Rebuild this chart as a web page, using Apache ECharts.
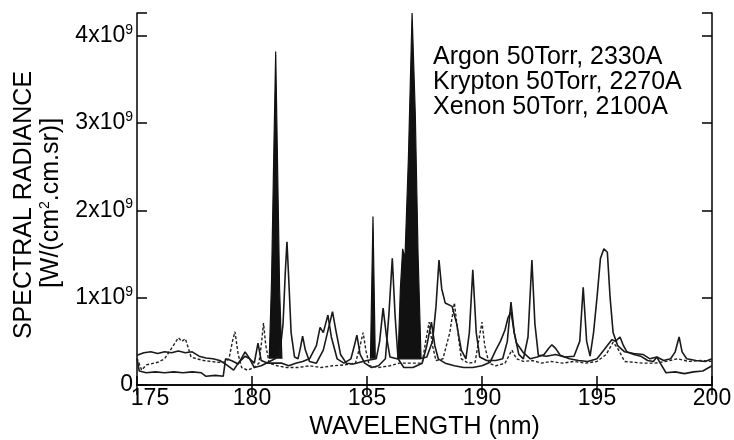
<!DOCTYPE html>
<html>
<head>
<meta charset="utf-8">
<script src="https://cdn.jsdelivr.net/npm/echarts@6.0.0/dist/echarts.min.js"></script>
<style type="text/css">
    html, body { margin: 0; padding: 0; background: #fff; }
    #chart { width: 734px; height: 440px; }
</style>
</head>
<body>
<div id="chart"></div>
<script type="text/javascript">
    // wavelength (nm), radiance (x1e9 W/(cm2.cm.sr))
    var xTicks = [175, 180, 185, 190, 195, 200];
    var yTicks = [0, 1, 2, 3, 4];
    var legendNames = ['Argon 50Torr, 2330A', 'Krypton 50Torr, 2270A', 'Xenon 50Torr, 2100A'];

    var argon = [[175.0,0.34],[175.3,0.37],[175.6,0.38],[175.9,0.36],[176.2,0.38],[176.5,0.37],[176.8,0.39],[177.1,0.37],
        [177.4,0.38],[177.7,0.33],[178.0,0.31],[178.3,0.3],[178.6,0.28],[178.9,0.23],[179.2,0.17],[179.4,0.25],[179.7,0.33],
        [179.9,0.3],[180.1,0.2],[180.4,0.22],[180.7,0.26],[181.0,0.3],[181.2,0.34],[181.35,0.7],[181.45,1.3],[181.52,1.64],
        [181.6,1.2],[181.7,0.6],[181.85,0.32],[182.0,0.3],[182.1,0.42],[182.2,0.56],[182.32,0.4],[182.5,0.27],[182.8,0.25],
        [183.1,0.4],[183.3,0.62],[183.5,0.84],[183.65,0.62],[183.85,0.35],[184.1,0.25],[184.4,0.24],[184.7,0.26],[185.0,0.28],
        [185.4,0.3],[185.55,0.5],[185.7,0.88],[185.85,0.55],[186.0,0.32],[186.3,0.3],[187.3,0.3],[187.6,0.32],[187.85,0.5],
        [188.0,0.9],[188.13,1.43],[188.25,1.1],[188.4,0.94],[188.7,0.9],[188.9,0.7],[189.1,0.4],[189.3,0.3],[189.45,0.6],
        [189.6,1.32],[189.75,0.6],[189.9,0.32],[190.2,0.28],[190.6,0.28],[190.9,0.3],[191.1,0.5],[191.26,0.95],[191.4,0.6],
        [191.6,0.35],[191.8,0.3],[192.0,0.55],[192.17,1.43],[192.3,0.7],[192.45,0.34],[192.8,0.33],[193.2,0.35],[193.6,0.32],
        [194.0,0.33],[194.25,0.5],[194.4,1.12],[194.55,0.5],[194.7,0.33],[194.85,0.6],[195.0,1.0],[195.15,1.45],[195.3,1.56],
        [195.45,1.52],[195.57,1.0],[195.7,0.6],[195.9,0.45],[196.2,0.38],[196.6,0.36],[197.0,0.35],[197.3,0.3],[197.6,0.32],
        [197.9,0.28],[198.2,0.3],[198.4,0.38],[198.57,0.55],[198.7,0.38],[198.9,0.3],[199.3,0.28],[199.7,0.27],[200.0,0.3]];

    var krypton = [[175.0,0.3],[175.1,0.16],[175.4,0.14],[175.8,0.15],[176.2,0.14],[176.6,0.15],[177.0,0.14],[177.4,0.15],
        [177.8,0.14],[178.0,0.1],[178.4,0.11],[178.75,0.1],[178.85,0.3],[179.1,0.28],[179.4,0.24],[179.7,0.38],[179.9,0.3],
        [180.1,0.25],[180.26,0.48],[180.4,0.28],[180.7,0.25],[181.0,0.25],[181.3,0.25],[181.6,0.22],[181.9,0.25],[182.2,0.27],
        [182.5,0.3],[182.8,0.45],[182.96,0.66],[183.1,0.6],[183.3,0.8],[183.45,0.55],[183.7,0.3],[184.0,0.25],[184.3,0.3],
        [184.45,0.45],[184.56,0.57],[184.7,0.35],[184.9,0.25],[185.2,0.2],[185.5,0.22],[185.8,0.3],[185.95,0.8],[186.1,1.45],
        [186.22,0.8],[186.35,0.3],[186.6,0.2],[187.0,0.2],[187.4,0.25],[187.6,0.45],[187.8,0.72],[187.95,0.45],[188.1,0.3],
        [188.4,0.25],[188.8,0.22],[189.2,0.2],[189.6,0.2],[190.0,0.22],[190.35,0.26],[190.6,0.4],[190.8,0.5],[191.0,0.63],
        [191.13,0.77],[191.26,0.84],[191.4,0.6],[191.5,0.48],[191.8,0.37],[192.1,0.3],[192.4,0.32],[192.7,0.35],[192.9,0.42],
        [193.04,0.46],[193.2,0.42],[193.4,0.34],[193.8,0.3],[194.2,0.28],[194.6,0.27],[195.0,0.3],[195.3,0.4],[195.65,0.52],
        [195.8,0.5],[196.0,0.55],[196.15,0.45],[196.3,0.38],[196.6,0.35],[196.9,0.33],[197.2,0.28],[197.45,0.27],[197.6,0.32],
        [197.75,0.25],[198.0,0.14],[198.4,0.15],[198.8,0.13],[199.2,0.15],[199.6,0.16],[200.0,0.22]];

    var xenon = [[175.0,0.31],[175.2,0.17],[175.4,0.23],[175.9,0.26],[176.2,0.3],[176.45,0.4],[176.6,0.46],[176.8,0.54],
        [176.95,0.5],[177.1,0.53],[177.2,0.45],[177.35,0.32],[177.6,0.3],[177.9,0.28],[178.2,0.27],[178.5,0.26],[178.8,0.26],
        [179.0,0.3],[179.15,0.5],[179.26,0.61],[179.4,0.35],[179.55,0.2],[179.8,0.17],[180.1,0.2],[180.3,0.25],[180.4,0.45],
        [180.5,0.71],[180.6,0.45],[180.75,0.25],[181.1,0.22],[181.5,0.2],[182.0,0.2],[182.5,0.22],[183.0,0.2],[183.5,0.22],
        [184.0,0.23],[184.5,0.25],[184.7,0.45],[184.83,0.6],[184.95,0.4],[185.1,0.22],[185.5,0.2],[186.0,0.22],[186.4,0.25],
        [187.4,0.25],[187.55,0.5],[187.7,0.72],[187.85,0.45],[188.0,0.28],[188.3,0.3],[188.6,0.6],[188.8,0.94],[188.95,0.6],
        [189.1,0.3],[189.4,0.25],[189.7,0.26],[189.85,0.5],[190.0,0.72],[190.12,0.45],[190.3,0.25],[190.6,0.22],[191.0,0.25],
        [191.3,0.4],[191.5,0.3],[191.8,0.27],[192.2,0.28],[192.6,0.25],[193.0,0.27],[193.5,0.25],[194.0,0.27],[194.5,0.25],
        [195.0,0.27],[195.4,0.35],[195.7,0.49],[195.9,0.42],[196.2,0.27],[196.6,0.26],[197.0,0.25],[197.5,0.25],[198.0,0.27],
        [198.5,0.3],[199.0,0.27],[199.5,0.28],[200.0,0.27]];

    // saturated (dense) lines, drawn filled
    var dense = [[180.75,0.3],[180.85,1.2],[180.95,2.7],[181.03,3.82],[181.1,2.7],[181.2,1.1],[181.3,0.3],[183.0,'-'],
        [185.15,0.3],[185.26,1.93],[185.36,0.3],[186.0,'-'],
        [186.35,0.3],[186.45,1.1],[186.55,1.56],[186.65,1.45],[186.8,2.6],[186.96,4.26],[187.1,3.1],[187.22,1.5],[187.35,0.3]];

    var FONT = '"Liberation Sans", Arial, Helvetica, sans-serif';

    var myChart = echarts.init(document.getElementById('chart'));
    option = {
        animation: false,
        backgroundColor: '#fff',
        grid: { left: 137, right: 22, top: 13, bottom: 55, outerBoundsMode: 'none', containLabel: false },
        legend: {
            data: legendNames,
            orient: 'vertical',
            left: 422,
            top: 40,
            itemWidth: 0,
            itemHeight: 0,
            itemGap: 0,
            selectedMode: false,
            textStyle: { fontFamily: FONT, fontSize: 25, lineHeight: 23, color: '#000' }
        },
        graphic: [
            {
                type: 'text', x: 24, y: 205, rotation: Math.PI / 2,
                style: { text: 'SPECTRAL RADIANCE', font: '25px ' + FONT, fill: '#000', align: 'center', verticalAlign: 'middle' }
            },
            {
                type: 'text', x: 51, y: 203, rotation: Math.PI / 2,
                style: {
                    text: '{b|[W/(cm}{s|2}{b|.cm.sr)]}', align: 'center', verticalAlign: 'middle',
                    rich: {
                        b: { fontFamily: FONT, fontSize: 25, fill: '#000' },
                        s: { fontFamily: FONT, fontSize: 14, fill: '#000', padding: [0, 0, 12, 0] }
                    }
                }
            }
        ],
        xAxis: [{
            type: 'value', min: 175, max: 200, interval: 5,
            name: 'WAVELENGTH (nm)', nameLocation: 'middle', nameGap: 25,
            nameTextStyle: { fontFamily: FONT, fontSize: 25, color: '#000' },
            axisLine: { lineStyle: { color: '#000', width: 1.5 } },
            axisTick: { inside: true, length: 9, lineStyle: { color: '#000', width: 1.5 } },
            splitLine: { show: false },
            axisLabel: {
                margin: 2, fontFamily: FONT, fontSize: 23, color: '#000',
                formatter: function (v) { return v === xTicks[0] ? '{f|' + v + '}' : '' + v; },
                rich: { f: { fontFamily: FONT, fontSize: 23, color: '#000', padding: [0, 0, 0, 26] } }
            }
        }, {
            type: 'value', min: 175, max: 200, interval: 5, position: 'top',
            axisLine: { lineStyle: { color: '#000', width: 1.5 } },
            axisTick: { inside: true, length: 10, lineStyle: { color: '#000', width: 1.5 } },
            axisLabel: { show: false },
            splitLine: { show: false }
        }],
        yAxis: [{
            type: 'value', min: 0, max: 4.26, interval: 1,
            axisLine: { show: true, lineStyle: { color: '#000', width: 1.5 } },
            axisTick: { show: true, inside: true, length: 10, lineStyle: { color: '#000', width: 1.5 } },
            splitLine: { show: false },
            axisLabel: {
                margin: 4, fontFamily: FONT, fontSize: 23, color: '#000',
                formatter: function (v) {
                    if (yTicks.indexOf(v) < 0) return '';
                    return v === 0 ? '0' : v + 'x10{s|9}';
                },
                rich: { s: { fontFamily: FONT, fontSize: 14, color: '#000', padding: [0, 0, 12, 0] } }
            }
        }, {
            type: 'value', min: 0, max: 4.26, interval: 1, position: 'right',
            axisLine: { show: true, lineStyle: { color: '#000', width: 1.5 } },
            axisTick: { show: true, inside: true, length: 10, lineStyle: { color: '#000', width: 1.5 } },
            axisLabel: { show: false },
            splitLine: { show: false }
        }],
        series: [
            {
                name: legendNames[0], type: 'line', data: argon, symbol: 'none',
                lineStyle: { color: '#1a1a1a', width: 1.6 }, itemStyle: { color: '#1a1a1a' }
            },
            {
                name: legendNames[1], type: 'line', data: krypton, symbol: 'none',
                lineStyle: { color: '#1a1a1a', width: 1.6 }, itemStyle: { color: '#1a1a1a' }
            },
            {
                name: legendNames[2], type: 'line', data: xenon, symbol: 'none',
                lineStyle: { color: '#222', width: 1.4, type: [3, 2] }, itemStyle: { color: '#222' }
            },
            {
                name: legendNames[0], type: 'line', data: dense, symbol: 'none', connectNulls: false,
                lineStyle: { color: '#111', width: 1.2 }, itemStyle: { color: '#111' },
                areaStyle: { color: '#111', opacity: 1, origin: 0.3 }
            }
        ]
    };
    myChart.setOption(option);
</script>
</body>
</html>
